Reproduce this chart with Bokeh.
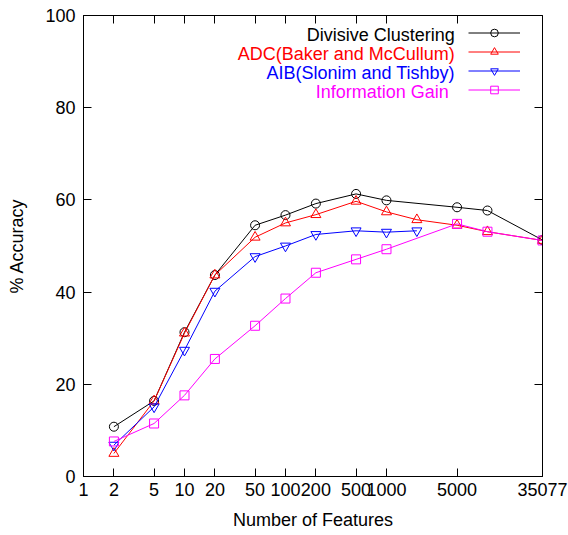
from bokeh.plotting import figure
from bokeh.models import (FixedTicker, LinearAxis, LogAxis, Legend, LegendItem, Label, Range1d)
from bokeh.embed import file_html
from bokeh.resources import INLINE

# Data
x_ticks = [1, 2, 5, 10, 20, 50, 100, 200, 500, 1000, 5000, 35077]
x_tick_labels = ["1", "2", "5", "10", "20", "50", "100", "200", "500", "1000", "5000", "35077"]
y_ticks = [0, 20, 40, 60, 80, 100]

dc_x = [2, 5, 10, 20, 50, 100, 200, 500, 1000, 5000, 10000, 35077]
dc_y = [10.8, 16.4, 31.3, 43.7, 54.5, 56.7, 59.2, 61.3, 59.9, 58.4, 57.7, 51.3]

adc_x = [2, 5, 10, 20, 50, 100, 200, 500, 1000, 2000, 5000, 10000, 35077]
adc_y = [5.0, 16.4, 31.1, 43.7, 51.9, 55.0, 56.8, 59.7, 57.4, 55.7, 54.5, 53.1, 51.2]

aib_x = [2, 5, 10, 20, 50, 100, 200, 500, 1000, 2000]
aib_y = [6.8, 15.1, 27.4, 40.2, 47.7, 50.0, 52.5, 53.3, 53.0, 53.3]

ig_x = [2, 5, 10, 20, 50, 100, 200, 500, 1000, 5000, 10000, 35077]
ig_y = [7.6, 11.5, 17.6, 25.5, 32.7, 38.6, 44.2, 47.1, 49.3, 54.8, 53.1, 51.2]

names = ["Divisive Clustering", "ADC(Baker and McCullum)", "AIB(Slonim and Tishby)", "Information Gain"]
colors = ["#000000", "#ff0000", "#0000ff", "#ff00ff"]
markers = ["circle", "triangle", "inverted_triangle", "square"]
marker_sizes = [9, 10, 10, 9]
series = [(dc_x, dc_y), (adc_x, adc_y), (aib_x, aib_y), (ig_x, ig_y)]

FONT = "Liberation Sans"
FS = "18px"

p = figure(width=568, height=535, x_axis_type="log", output_backend="svg",
           toolbar_location=None, x_range=Range1d(1, 35077), y_range=Range1d(0, 100),
           min_border_left=83, min_border_right=26, min_border_top=15, min_border_bottom=59)
p.xgrid.visible = False
p.ygrid.visible = False
p.outline_line_color = "black"
p.outline_line_width = 1
p.background_fill_color = "white"
p.border_fill_color = "white"

p.xaxis.ticker = FixedTicker(ticks=x_ticks, minor_ticks=[])
p.xaxis.major_label_overrides = {t: l for t, l in zip(x_ticks, x_tick_labels)}
p.yaxis.ticker = FixedTicker(ticks=y_ticks, minor_ticks=[])
p.xaxis.axis_label = "Number of Features"
p.yaxis.axis_label = "% Accuracy"

for ax in [p.xaxis[0], p.yaxis[0]]:
    ax.major_tick_in = 8
    ax.major_tick_out = 0
    ax.minor_tick_in = 0
    ax.minor_tick_out = 0
    ax.axis_line_color = "black"
    ax.major_tick_line_color = "black"
    ax.major_label_text_font = FONT
    ax.major_label_text_font_size = FS
    ax.major_label_text_color = "black"
    ax.axis_label_text_font = FONT
    ax.axis_label_text_font_size = FS
    ax.axis_label_text_font_style = "normal"
    ax.axis_label_text_color = "black"
p.xaxis.major_label_standoff = 6
p.xaxis.axis_label_standoff = 11
p.yaxis.major_label_standoff = 8
p.yaxis.axis_label_standoff = 15

top = LogAxis(ticker=FixedTicker(ticks=x_ticks[1:-1], minor_ticks=[]),
              major_label_text_font_size="1px", major_label_text_color=None,
              major_tick_in=8, major_tick_out=0, minor_tick_in=0, minor_tick_out=0)
right = LinearAxis(ticker=FixedTicker(ticks=y_ticks[1:-1], minor_ticks=[]),
                   major_label_text_font_size="1px", major_label_text_color=None,
                   major_tick_in=8, major_tick_out=0, minor_tick_in=0, minor_tick_out=0)
p.add_layout(top, "above")
p.add_layout(right, "right")

items = []
for (xs, ys), c, m, s in zip(series, colors, markers, marker_sizes):
    r1 = p.line(xs, ys, line_color=c, line_width=1)
    r2 = p.scatter(xs, ys, marker=m, size=s, line_color=c, fill_color=None, line_width=1)
    items.append(LegendItem(label=" ", renderers=[r1, r2]))

legend = Legend(items=items, location="top_right", margin=8, padding=0, spacing=0,
                glyph_width=52, glyph_height=19, label_width=14, label_height=19,
                label_standoff=0, label_text_font_size="1px",
                border_line_color=None, background_fill_alpha=0)
p.add_layout(legend, "center")

# legend texts (right-aligned, left of the samples), screen px from frame bottom-left
label_x = [371.3, 371.3, 371.3, 365.3]
label_y = [441.5, 422.5, 403.5, 384.5]
for name, c, lx, ly in zip(names, colors, label_x, label_y):
    p.add_layout(Label(x=lx, y=ly, x_units="screen", y_units="screen", text=name,
                       text_align="right", text_baseline="middle", text_color=c,
                       text_font=FONT, text_font_size=FS))

open("out.html", "w").write(file_html(p, INLINE))
